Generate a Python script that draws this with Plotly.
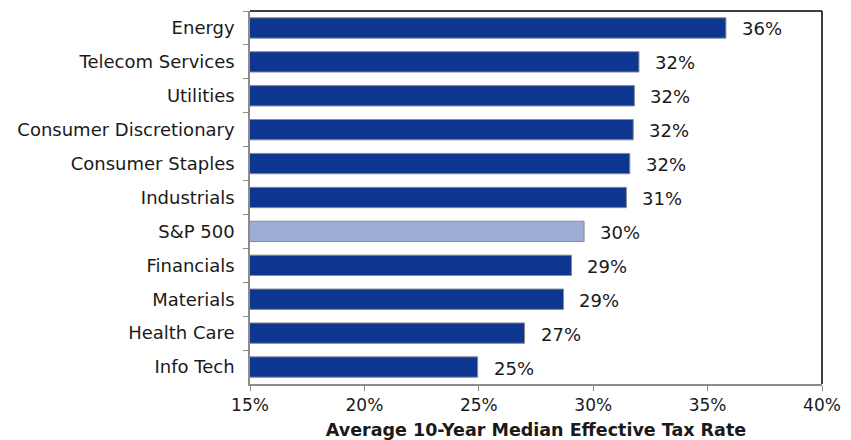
import plotly.graph_objects as go

categories = ["Energy", "Telecom Services", "Utilities", "Consumer Discretionary",
              "Consumer Staples", "Industrials", "S&P 500", "Financials",
              "Materials", "Health Care", "Info Tech"]
tax_rate = [35.8, 32.0, 31.8, 31.75, 31.6, 31.45, 29.6, 29.05, 28.7, 27.0, 24.95]
value_labels = ["36%", "32%", "32%", "32%", "32%", "31%", "30%", "29%", "29%", "27%", "25%"]
x_ticks = [15, 20, 25, 30, 35, 40]
x_tick_labels = ["15%", "20%", "25%", "30%", "35%", "40%"]

DARK = "#0E3590"
LIGHT = "#9DAED4"
colors = [LIGHT if c == "S&P 500" else DARK for c in categories]
FONT = "DejaVu Sans"

fig = go.Figure(go.Bar(
    x=tax_rate,
    y=categories,
    orientation="h",
    base=0,
    marker=dict(color=colors, line=dict(color="#8A8A8A", width=1)),
    width=0.6,
    hoverinfo="skip",
))

annotations = []
for c, v, t in zip(categories, tax_rate, value_labels):
    annotations.append(dict(x=v, y=c, xref="x", yref="y", text=t, showarrow=False,
                            xanchor="left", xshift=14, yshift=-1,
                            font=dict(family=FONT, size=18, color="#1a1a1a")))

fig.update_layout(
    width=851, height=440,
    margin=dict(l=250, r=29, t=11, b=56),
    plot_bgcolor="white", paper_bgcolor="white",
    showlegend=False,
    annotations=annotations,
    shapes=[
        dict(type="line", xref="paper", yref="paper", x0=0, x1=1, y0=1, y1=1,
             line=dict(color="black", width=1.5)),
        dict(type="line", xref="paper", yref="paper", x0=1, x1=1, y0=0, y1=1,
             line=dict(color="black", width=1.5)),
    ],
    xaxis=dict(
        range=[15, 40], tickvals=x_ticks, ticktext=x_tick_labels,
        showgrid=False, zeroline=False, automargin=False,
        showline=True, linecolor="#8C8C8C", linewidth=1.5,
        ticks="outside", ticklen=5, tickcolor="#8C8C8C",
        tickfont=dict(family=FONT, size=17, color="#1a1a1a"),
        title=dict(text="<b>Average 10-Year Median Effective Tax Rate</b>",
                   font=dict(family=FONT, size=17.5, color="#1a1a1a"), standoff=14),
    ),
    yaxis=dict(
        autorange="reversed", automargin=False,
        showgrid=False, zeroline=False,
        showline=True, linecolor="#8C8C8C", linewidth=1.5,
        ticks="outside", ticklen=5, tickcolor="#8C8C8C", tickson="boundaries",
        tickfont=dict(family=FONT, size=18, color="#1a1a1a"),
        ticklabelstandoff=10,
    ),
)

fig.write_html("out.html")
